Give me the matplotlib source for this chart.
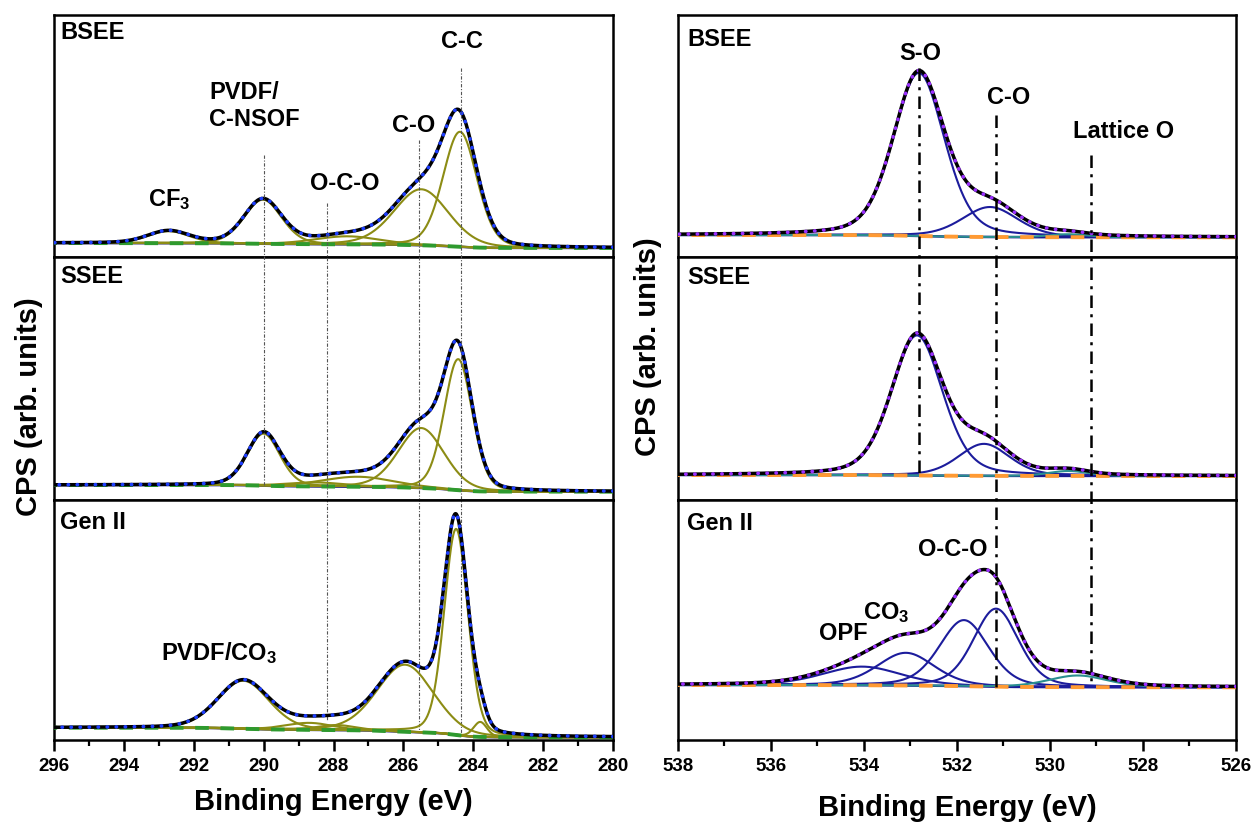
import numpy as np
import matplotlib
matplotlib.use("Agg")
import matplotlib.pyplot as plt
from matplotlib.transforms import blended_transform_factory
from matplotlib.ticker import MultipleLocator

plt.rcParams['font.family'] = ['Liberation Sans', 'DejaVu Sans']
plt.rcParams['font.weight'] = 'bold'
plt.rcParams['mathtext.fontset'] = 'custom'
plt.rcParams['mathtext.rm'] = 'Liberation Sans:bold'
plt.rcParams['mathtext.bf'] = 'Liberation Sans:bold'
plt.rcParams['mathtext.it'] = 'Liberation Sans:bold'

# ---------------- data ----------------
panel_names = ['BSEE', 'SSEE', 'Gen II']

# C 1s (left column): peak centre (eV), height (arb.), FWHM (eV)
c1s_bsee_center = [292.72, 290.02, 287.6, 285.49, 284.38]
c1s_bsee_height = [12, 44, 8, 56, 115]
c1s_bsee_fwhm = [1.4, 1.27, 2.2, 1.84, 1.15]
c1s_bsee_bg = [14, 9]          # background level: high-BE end, low-BE end

c1s_ssee_center = [290.0, 288.5, 287.3, 285.49, 284.43]
c1s_ssee_height = [52, 4, 10, 60, 131]
c1s_ssee_fwhm = [1.1, 2.0, 2.4, 1.55, 0.95]
c1s_ssee_bg = [15, 8.3]

c1s_gen2_center = [290.58, 288.7, 287.9, 285.95, 284.49, 283.8]
c1s_gen2_height = [48, 7, 5, 67, 206, 15]
c1s_gen2_fwhm = [1.73, 1.6, 1.3, 1.9, 0.8, 0.45]
c1s_gen2_bg = [12.3, 2.7]

# O 1s (right column)
o1s_bsee_center = [532.82, 531.29, 529.6]
o1s_bsee_height = [163, 30, 3]
o1s_bsee_fwhm = [1.3, 1.42, 1.0]
o1s_bsee_bg = [22, 19.7]

o1s_ssee_center = [532.86, 531.42, 529.6]
o1s_ssee_height = [140, 32, 5]
o1s_ssee_fwhm = [1.3, 1.3, 1.0]
o1s_ssee_bg = [25, 24]

o1s_gen2_center = [534.04, 533.1, 531.85, 531.16, 529.4]
o1s_gen2_height = [18.6, 32.7, 66, 78, 11.7]
o1s_gen2_fwhm = [2.0, 1.45, 1.25, 1.15, 1.5]
o1s_gen2_bg = [55, 52.7]

c1s_ticks = [296, 294, 292, 290, 288, 286, 284, 282, 280]
o1s_ticks = [538, 536, 534, 532, 530, 528, 526]

c1s_lines = [290.0, 288.2, 285.56, 284.34]
o1s_lines = [532.82, 531.16, 529.12]

# ---------------- helpers ----------------
W, H, DPI = 1257, 825, 100
fig = plt.figure(figsize=(W / DPI, H / DPI), dpi=DPI)
fig.patch.set_facecolor('white')

tops = [15, 257, 500]
bots = [257, 500, 740]


def fy(py):
    return 1 - py / H


def make_axes(x0, x1):
    axs = []
    for t, b in zip(tops, bots):
        ax = fig.add_axes([x0 / W, fy(b), (x1 - x0) / W, (b - t) / H])
        ax.set_ylim(0, b - t)
        for s in ax.spines.values():
            s.set_linewidth(1.8)
        ax.set_yticks([])
        axs.append(ax)
    return axs


def pv(x, c, h, w, eta):
    d = (x - c) / w
    return h * ((1 - eta) * np.exp(-4 * np.log(2) * d ** 2) + eta / (1 + 4 * d ** 2))


def draw_panel(ax, x, centers, heights, fwhms, bg_ends, eta, comp_cols,
               bgdash, fitcol):
    comps = [pv(x, c, h, w, eta) for c, h, w in zip(centers, heights, fwhms)]
    tot = np.sum(comps, axis=0)
    cum = np.cumsum(tot)
    bg = bg_ends[1] + (bg_ends[0] - bg_ends[1]) * cum / cum[-1]
    ax.plot(x, bg, color='#1a1a8c', lw=1.8, zorder=2)
    for comp, col in zip(comps, comp_cols):
        ax.plot(x, comp + bg, color=col, lw=1.5, zorder=3)
    ax.plot(x, bg, color=bgdash, lw=2.8, ls=(0, (3.5, 3)), zorder=4)
    ax.plot(x, tot + bg, color='black', lw=2.5, zorder=5)
    ax.plot(x, tot + bg, color=fitcol, lw=2.6, ls=(0, (0.1, 2.4)),
            dash_capstyle='round', zorder=6)


olive = '#8c8c14'
navy = '#1c1c9c'
teal = '#2a8f8f'

# ---------------- left column: C 1s ----------------
L = make_axes(54, 613)
xc = np.linspace(280, 296, 1600)
c1s_sets = [
    (c1s_bsee_center, c1s_bsee_height, c1s_bsee_fwhm, c1s_bsee_bg),
    (c1s_ssee_center, c1s_ssee_height, c1s_ssee_fwhm, c1s_ssee_bg),
    (c1s_gen2_center, c1s_gen2_height, c1s_gen2_fwhm, c1s_gen2_bg),
]
for ax, (c, h, w, b) in zip(L, c1s_sets):
    ax.set_xlim(296, 280)
    draw_panel(ax, xc, c, h, w, b, 0.2, [olive] * len(c), '#2e9a2e', '#1f3fff')

# ---------------- right column: O 1s ----------------
R = make_axes(678, 1236)
xo = np.linspace(526, 538, 1600)
o1s_sets = [
    (o1s_bsee_center, o1s_bsee_height, o1s_bsee_fwhm, o1s_bsee_bg),
    (o1s_ssee_center, o1s_ssee_height, o1s_ssee_fwhm, o1s_ssee_bg),
    (o1s_gen2_center, o1s_gen2_height, o1s_gen2_fwhm, o1s_gen2_bg),
]
for ax, (c, h, w, b) in zip(R, o1s_sets):
    ax.set_xlim(538, 526)
    cols = [navy] * (len(c) - 1) + [teal]
    draw_panel(ax, xo, c, h, w, b, 0.3, cols, '#ff9a33', '#9b30ff')

# ticks
for axs, ticks in ((L, c1s_ticks), (R, o1s_ticks)):
    for ax in axs[:2]:
        ax.set_xticks([])
    ax = axs[2]
    ax.set_xticks(ticks)
    ax.xaxis.set_minor_locator(MultipleLocator(1))
    ax.tick_params(axis='x', which='major', direction='out', length=8, width=1.8,
                   labelsize=13.5, pad=5)
    ax.tick_params(axis='x', which='minor', direction='out', length=4, width=1.6)
    for lab in ax.get_xticklabels():
        lab.set_fontweight('bold')

# ---------------- reference lines ----------------
trL = blended_transform_factory(L[2].transData, fig.transFigure)
left_line_span = [(155, 486), (203, 720), (140, 730), (68, 733)]
for xv, (p0, p1) in zip(c1s_lines, left_line_span):
    L[2].plot([xv, xv], [fy(p0), fy(p1)], transform=trL, clip_on=False,
              color='#555555', lw=0.8, ls=(0, (3, 1.5, 1, 1.5)), zorder=1)

trR = blended_transform_factory(R[2].transData, fig.transFigure)
right_line_span = [(68, 477), (115, 687), (155, 687)]
for xv, (p0, p1) in zip(o1s_lines, right_line_span):
    R[2].plot([xv, xv], [fy(p0), fy(p1)], transform=trR, clip_on=False,
              color='black', lw=1.8, ls=(0, (5, 2.5, 1.2, 2.5)), zorder=7)

# ---------------- text ----------------
lab_kw = dict(fontsize=17, fontweight='bold', ha='left', va='center')
for ax, name, yf in zip(L, panel_names, [0.926, 0.918, 0.908]):
    ax.text(0.011, yf, name, transform=ax.transAxes, **lab_kw)
for ax, name, yf in zip(R, panel_names, [0.90, 0.914, 0.904]):
    ax.text(0.016, yf, name, transform=ax.transAxes, **lab_kw)

ann = dict(fontsize=17, fontweight='bold', va='center')
L[0].text(284.32, 215, 'C-C', ha='center', **ann)
L[0].text(291.56, 151, 'PVDF/\nC-NSOF', ha='left', linespacing=1.2, **ann)
L[0].text(285.70, 132, 'C-O', ha='center', **ann)
L[0].text(287.67, 74, 'O-C-O', ha='center', **ann)
L[0].text(292.71, 57, r'CF$_3$', ha='center', **ann)
L[2].text(292.94, 87, r'PVDF/CO$_3$', ha='left', **ann)

R[0].text(532.78, 204, 'S-O', ha='center', **ann)
R[0].text(530.90, 160, 'C-O', ha='center', **ann)
R[0].text(528.41, 126, 'Lattice O', ha='center', **ann)
R[2].text(532.09, 190, 'O-C-O', ha='center', **ann)
R[2].text(534.02, 127, r'CO$_3$', ha='left', **ann)
R[2].text(534.97, 107, 'OPF', ha='left', **ann)

fig.text(333 / W, fy(802), 'Binding Energy (eV)', fontsize=21, fontweight='bold',
         ha='center', va='center')
fig.text(957 / W, fy(808), 'Binding Energy (eV)', fontsize=21, fontweight='bold',
         ha='center', va='center')
fig.text(29 / W, fy(407), 'CPS (arb. units)', fontsize=21, fontweight='bold',
         ha='center', va='center', rotation=90)
fig.text(648 / W, fy(347), 'CPS (arb. units)', fontsize=21, fontweight='bold',
         ha='center', va='center', rotation=90)

fig.savefig('out.png', dpi=DPI, facecolor='white')
